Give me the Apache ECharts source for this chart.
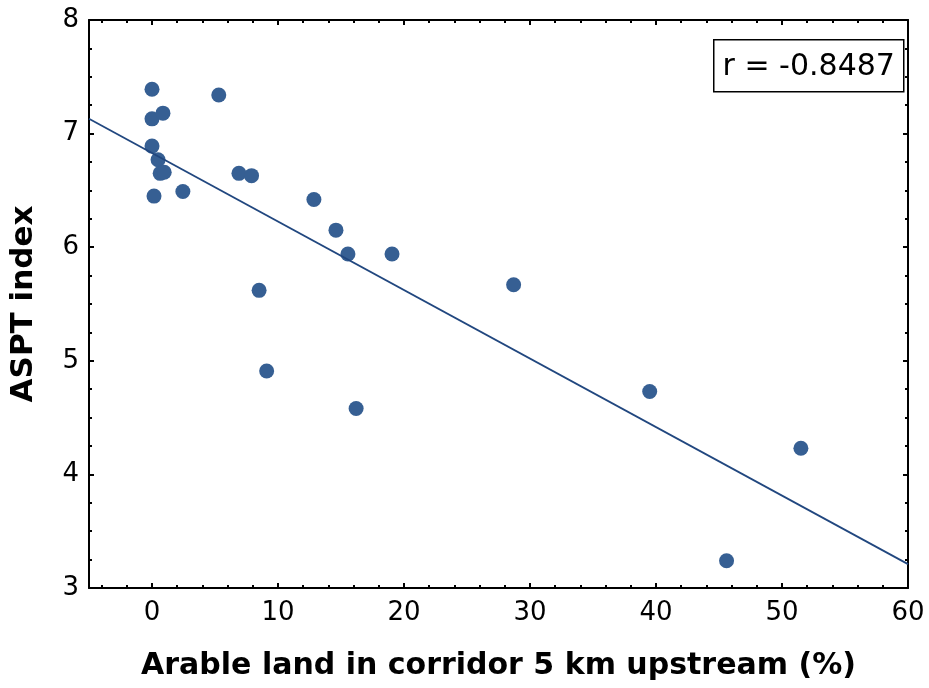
<!DOCTYPE html>
<html>
<head>
<meta charset="utf-8">
<script src="https://cdn.jsdelivr.net/npm/echarts@6/dist/echarts.min.js"></script>
<style>html,body{margin:0;padding:0;background:#fff;}#c{width:929px;height:688px;}</style>
</head>
<body>
<div id="c"></div>
<script>
// Data
const arableLand = [0, 0, 0.87, 5.3, 0, 0.48, 0.65, 0.97, 0.16, 2.45, 6.9, 7.9, 12.85, 14.6, 15.55, 19.05, 28.7, 8.5, 9.1, 16.2, 39.5, 51.5, 45.6];
const asptIndex = [7.39, 7.13, 7.18, 7.34, 6.89, 6.77, 6.65, 6.66, 6.45, 6.49, 6.65, 6.63, 6.42, 6.15, 5.94, 5.94, 5.67, 5.62, 4.91, 4.58, 4.73, 4.23, 3.24];
const fitLineX = [-5, 60];
const fitLineY = [7.13, 3.21];
const xMajorTicks = [0, 10, 20, 30, 40, 50, 60];
const xMinorTicks = [-4, -2, 2, 4, 6, 8, 12, 14, 16, 18, 22, 24, 26, 28, 32, 34, 36, 38, 42, 44, 46, 48, 52, 54, 56, 58];
const yTickValues = [3, 4, 5, 6, 7, 8];
const rLabel = 'r = -0.8487';
const xTitle = 'Arable land in corridor 5 km upstream (%)';
const yTitle = 'ASPT index';

const points = arableLand.map((x, i) => [x, asptIndex[i]]);
const fitLine = fitLineX.map((x, i) => [x, fitLineY[i]]);

const lineStyle = { color: '#000', width: 2 };
const baseX = { type: 'value', min: -5, max: 60, splitLine: { show: false } };

const chart = echarts.init(document.getElementById('c'), null, { renderer: 'canvas' });
chart.setOption({
  backgroundColor: '#fff',
  animation: false,
  grid: { left: 88, right: 21, top: 20, bottom: 100, containLabel: false },
  xAxis: [
    Object.assign({}, baseX, {
      position: 'bottom',
      name: xTitle, nameLocation: 'middle', nameGap: 63,
      nameTextStyle: { fontFamily: 'DejaVu Sans', fontWeight: 'bold', fontSize: 30, color: '#000' },
      axisLine: { show: true, onZero: false, lineStyle: lineStyle },
      axisTick: { show: true, inside: true, length: 5, lineStyle: lineStyle, customValues: xMajorTicks },
      axisLabel: { customValues: xMajorTicks, fontFamily: 'DejaVu Sans', fontSize: 26, color: '#000', margin: 12 }
    }),
    Object.assign({}, baseX, {
      position: 'bottom',
      axisLine: { show: false, onZero: false },
      axisTick: { show: true, inside: true, length: 3, lineStyle: lineStyle, customValues: xMinorTicks },
      axisLabel: { show: false }
    }),
    Object.assign({}, baseX, {
      position: 'top',
      axisLine: { show: true, onZero: false, lineStyle: lineStyle },
      axisTick: { show: true, inside: true, length: 5, lineStyle: lineStyle, customValues: xMajorTicks },
      axisLabel: { show: false }
    }),
    Object.assign({}, baseX, {
      position: 'top',
      axisLine: { show: false, onZero: false },
      axisTick: { show: true, inside: true, length: 3, lineStyle: lineStyle, customValues: xMinorTicks },
      axisLabel: { show: false }
    })
  ],
  yAxis: [
    {
      type: 'value', min: 3, max: 8, interval: 1, position: 'left',
      name: yTitle, nameLocation: 'middle', nameGap: 50, nameRotate: 90,
      nameTextStyle: { fontFamily: 'DejaVu Sans', fontWeight: 'bold', fontSize: 31, color: '#000' },
      splitLine: { show: false },
      axisLine: { show: true, onZero: false, lineStyle: lineStyle },
      axisTick: { show: true, inside: true, length: 5, lineStyle: lineStyle },
      minorTick: { show: true, splitNumber: 4, length: 3, lineStyle: lineStyle },
      minorSplitLine: { show: false },
      axisLabel: { customValues: yTickValues, fontFamily: 'DejaVu Sans', fontSize: 26, color: '#000', margin: 10 }
    },
    {
      type: 'value', min: 3, max: 8, interval: 1, position: 'right',
      splitLine: { show: false },
      axisLine: { show: true, onZero: false, lineStyle: lineStyle },
      axisTick: { show: true, inside: true, length: 5, lineStyle: lineStyle },
      minorTick: { show: true, splitNumber: 4, length: 3, lineStyle: lineStyle },
      axisLabel: { show: false }
    }
  ],
  series: [
    {
      type: 'scatter', xAxisIndex: 0, yAxisIndex: 0,
      data: points, symbol: 'circle', symbolSize: 15,
      itemStyle: { color: '#365f93', opacity: 1 },
      z: 2
    },
    {
      type: 'line', xAxisIndex: 0, yAxisIndex: 0,
      data: fitLine, symbol: 'none',
      lineStyle: { color: '#21477f', width: 1.8 },
      z: 3
    }
  ],
  graphic: [
    {
      type: 'group', left: 713, top: 39,
      children: [
        { type: 'rect', shape: { x: 0, y: 0, width: 190, height: 52 }, style: { fill: '#fff', stroke: '#000', lineWidth: 1.5 } },
        { type: 'text', x: 95, y: 27, style: { text: rLabel, fontFamily: 'DejaVu Sans', fontSize: 30, fill: '#000', align: 'center', verticalAlign: 'middle' } }
      ]
    }
  ]
});
</script>
</body>
</html>
